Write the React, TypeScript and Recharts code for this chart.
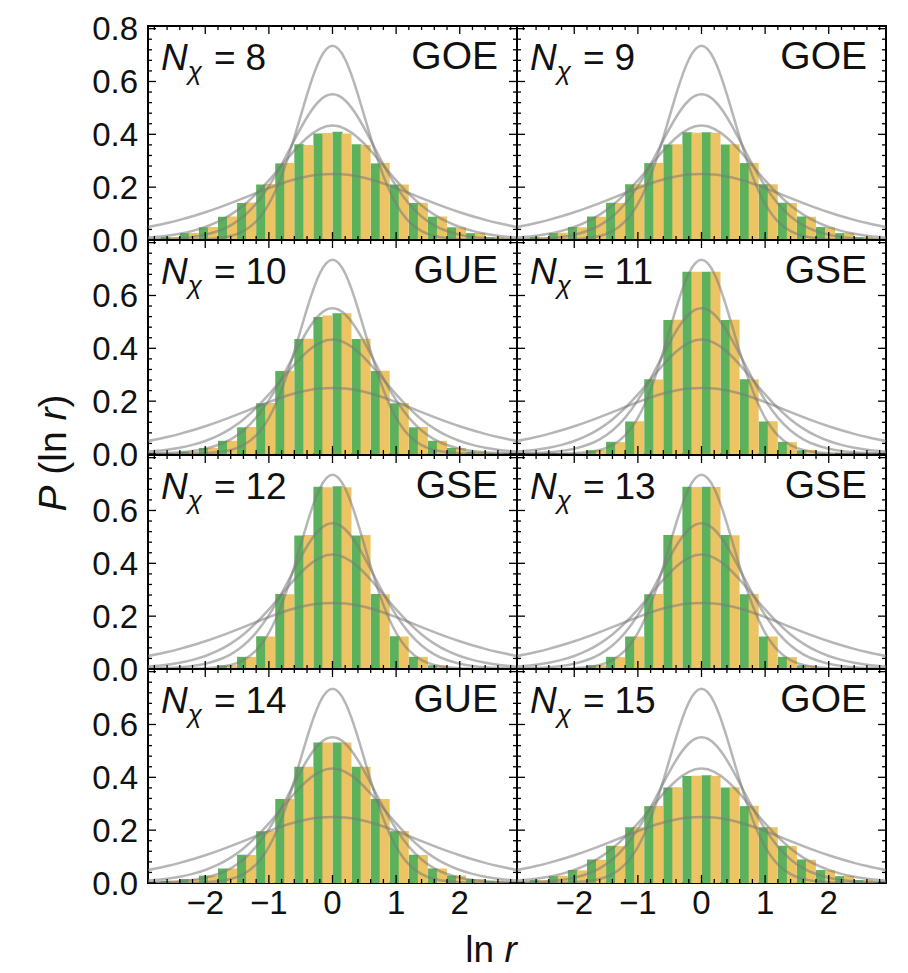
import React from "react";
import { ComposedChart, Bar, Line, XAxis, YAxis, ReferenceArea, ReferenceLine } from "recharts";

// histogram bin centres (bin width 0.3)
const binX = [-2.85, -2.55, -2.25, -1.95, -1.65, -1.35, -1.05, -0.75, -0.45, -0.15, 0.15, 0.45, 0.75, 1.05, 1.35, 1.65, 1.95, 2.25, 2.55, 2.85];

// sample points of the reference curves
const curveX = [-2.9, -2.8, -2.6, -2.4, -2.2, -2.0, -1.8, -1.6, -1.4, -1.2, -1.0, -0.8, -0.6, -0.4, -0.2, 0, 0.2, 0.4, 0.6, 0.8, 1.0, 1.2, 1.4, 1.6, 1.8, 2.0, 2.2, 2.4, 2.6, 2.8, 2.9];
const poissonY = [0.0494, 0.054, 0.0644, 0.0763, 0.0898, 0.105, 0.1217, 0.1398, 0.1587, 0.1779, 0.1966, 0.2139, 0.2288, 0.2403, 0.2475, 0.25, 0.2475, 0.2403, 0.2288, 0.2139, 0.1966, 0.1779, 0.1587, 0.1398, 0.1217, 0.105, 0.0898, 0.0763, 0.0644, 0.054, 0.0494];
const goeY = [0.0093, 0.0113, 0.0165, 0.0239, 0.0344, 0.0491, 0.0692, 0.0961, 0.1309, 0.1743, 0.2255, 0.2819, 0.3382, 0.3872, 0.421, 0.433, 0.421, 0.3872, 0.3382, 0.2819, 0.2255, 0.1743, 0.1309, 0.0961, 0.0692, 0.0491, 0.0344, 0.0239, 0.0165, 0.0113, 0.0093];
const gueY = [0.0017, 0.0022, 0.0039, 0.0068, 0.0118, 0.0201, 0.0339, 0.0557, 0.089, 0.1376, 0.2037, 0.2862, 0.3779, 0.4647, 0.528, 0.5513, 0.528, 0.4647, 0.3779, 0.2862, 0.2037, 0.1376, 0.089, 0.0557, 0.0339, 0.0201, 0.0118, 0.0068, 0.0039, 0.0022, 0.0017];
const gseY = [0, 0.0001, 0.0002, 0.0005, 0.0011, 0.0028, 0.0067, 0.0154, 0.0339, 0.0705, 0.1367, 0.2426, 0.3881, 0.5506, 0.6833, 0.7351, 0.6833, 0.5506, 0.3881, 0.2426, 0.1367, 0.0705, 0.0339, 0.0154, 0.0067, 0.0028, 0.0011, 0.0005, 0.0002, 0.0001, 0];

// bar heights per panel, green = first data set, yellow = second
const n8Green = [0.005, 0.011, 0.026, 0.048, 0.088, 0.14, 0.21, 0.29, 0.362, 0.403, 0.41, 0.362, 0.29, 0.21, 0.14, 0.088, 0.048, 0.026, 0.011, 0.005];
const n8Yellow = [0.005, 0.011, 0.027, 0.049, 0.089, 0.142, 0.212, 0.292, 0.36, 0.405, 0.403, 0.36, 0.292, 0.21, 0.141, 0.089, 0.048, 0.027, 0.011, 0.005];
const n9Green = [0.005, 0.011, 0.026, 0.049, 0.089, 0.141, 0.211, 0.291, 0.361, 0.408, 0.408, 0.361, 0.291, 0.211, 0.141, 0.089, 0.049, 0.026, 0.011, 0.005];
const n9Yellow = [0.005, 0.011, 0.027, 0.048, 0.088, 0.14, 0.211, 0.292, 0.362, 0.406, 0.406, 0.362, 0.292, 0.211, 0.14, 0.088, 0.048, 0.027, 0.011, 0.005];
const n10Green = [0.002, 0.004, 0.009, 0.023, 0.05, 0.101, 0.192, 0.314, 0.435, 0.519, 0.533, 0.435, 0.314, 0.192, 0.101, 0.05, 0.023, 0.009, 0.004, 0.002];
const n10Yellow = [0.002, 0.004, 0.009, 0.023, 0.05, 0.102, 0.193, 0.315, 0.436, 0.524, 0.533, 0.436, 0.315, 0.193, 0.102, 0.05, 0.023, 0.009, 0.004, 0.002];
const n11Green = [0.0003, 0.001, 0.002, 0.004, 0.014, 0.046, 0.123, 0.283, 0.507, 0.69, 0.69, 0.507, 0.283, 0.123, 0.046, 0.014, 0.004, 0.002, 0.001, 0.0003];
const n11Yellow = [0.0003, 0.001, 0.002, 0.004, 0.015, 0.045, 0.124, 0.282, 0.508, 0.69, 0.69, 0.508, 0.282, 0.124, 0.045, 0.015, 0.004, 0.002, 0.001, 0.0003];
const n12Green = [0.0003, 0.001, 0.002, 0.004, 0.014, 0.046, 0.124, 0.284, 0.505, 0.69, 0.692, 0.505, 0.284, 0.124, 0.046, 0.014, 0.004, 0.002, 0.001, 0.0003];
const n12Yellow = [0.0003, 0.001, 0.002, 0.004, 0.014, 0.046, 0.123, 0.283, 0.507, 0.688, 0.688, 0.507, 0.283, 0.123, 0.046, 0.014, 0.004, 0.002, 0.001, 0.0003];
const n13Green = [0.0003, 0.001, 0.002, 0.004, 0.014, 0.046, 0.123, 0.283, 0.507, 0.69, 0.69, 0.507, 0.283, 0.123, 0.046, 0.014, 0.004, 0.002, 0.001, 0.0003];
const n13Yellow = [0.0003, 0.001, 0.002, 0.004, 0.014, 0.045, 0.123, 0.284, 0.506, 0.689, 0.689, 0.506, 0.284, 0.123, 0.045, 0.014, 0.004, 0.002, 0.001, 0.0003];
const n14Green = [0.003, 0.008, 0.015, 0.028, 0.055, 0.107, 0.196, 0.318, 0.44, 0.532, 0.532, 0.44, 0.318, 0.196, 0.107, 0.055, 0.028, 0.015, 0.008, 0.003];
const n14Yellow = [0.003, 0.008, 0.015, 0.028, 0.055, 0.106, 0.197, 0.318, 0.44, 0.532, 0.532, 0.44, 0.318, 0.197, 0.106, 0.055, 0.028, 0.015, 0.008, 0.003];
const n15Green = [0.005, 0.011, 0.026, 0.049, 0.089, 0.141, 0.211, 0.291, 0.361, 0.405, 0.408, 0.361, 0.291, 0.211, 0.141, 0.089, 0.049, 0.026, 0.011, 0.005];
const n15Yellow = [0.005, 0.011, 0.027, 0.048, 0.088, 0.14, 0.211, 0.292, 0.362, 0.406, 0.405, 0.362, 0.292, 0.211, 0.14, 0.088, 0.048, 0.027, 0.011, 0.005];

const panelN = [8, 9, 10, 11, 12, 13, 14, 15];
const panelEnsemble = ["GOE", "GOE", "GUE", "GSE", "GSE", "GSE", "GUE", "GOE"];
const panelGreen = [n8Green, n9Green, n10Green, n11Green, n12Green, n13Green, n14Green, n15Green];
const panelYellow = [n8Yellow, n9Yellow, n10Yellow, n11Yellow, n12Yellow, n13Yellow, n14Yellow, n15Yellow];

const majorX = [-2, -1, 0, 1, 2];
const minorX = [-2.8, -2.6, -2.4, -2.2, -1.8, -1.6, -1.4, -1.2, -0.8, -0.6, -0.4, -0.2, 0.2, 0.4, 0.6, 0.8, 1.2, 1.4, 1.6, 1.8, 2.2, 2.4, 2.6, 2.8];
const majorY = [0, 0.2, 0.4, 0.6, 0.8];
const minorY = [0.04, 0.08, 0.12, 0.16, 0.24, 0.28, 0.32, 0.36, 0.44, 0.48, 0.52, 0.56, 0.64, 0.68, 0.72, 0.76];

const FONT = "'Liberation Sans', Arial, Helvetica, sans-serif";
const X_DOMAIN: [number, number] = [-2.9, 2.9];
const Y_DOMAIN: [number, number] = [0, 0.81];
const PLOT_W = 369;
const PLOT_H = 214;
const COL_LEFT = [148, 517];
const ROW_TOP = [26, 240, 455, 669];
const M = 20;

// tick lengths converted to data units
const PX_X = (X_DOMAIN[1] - X_DOMAIN[0]) / PLOT_W;
const PX_Y = (Y_DOMAIN[1] - Y_DOMAIN[0]) / PLOT_H;
const MAJOR_LEN = 8;
const MINOR_LEN = 4;

const curves = [poissonY, goeY, gueY, gseY].map((ys) => curveX.map((x, i) => ({ x, p: ys[i] })));

const fmtX = (v: number) => (v < 0 ? "\u2212" + Math.abs(v) : String(v));

function frameTicks() {
  const out: React.ReactNode[] = [];
  const add = (key: string, seg: { x: number; y: number }[]) =>
    out.push(
      <ReferenceLine key={key} xAxisId="b" yAxisId="y" segment={seg} stroke="#000" strokeWidth={1.3} ifOverflow="visible" />
    );
  const [x0, x1] = X_DOMAIN;
  const [y0, y1] = Y_DOMAIN;
  [...majorX.map((v) => [v, MAJOR_LEN]), ...minorX.map((v) => [v, MINOR_LEN])].forEach(([v, len], i) => {
    add("xb" + i, [{ x: v, y: y0 }, { x: v, y: y0 + len * PX_Y }]);
    add("xt" + i, [{ x: v, y: y1 }, { x: v, y: y1 - len * PX_Y }]);
  });
  [...majorY.map((v) => [v, MAJOR_LEN]), ...minorY.map((v) => [v, MINOR_LEN])].forEach(([v, len], i) => {
    add("yl" + i, [{ x: x0, y: v }, { x: x0 + len * PX_X, y: v }]);
    add("yr" + i, [{ x: x1, y: v }, { x: x1 - len * PX_X, y: v }]);
  });
  return out;
}

function Panel({ idx }: { idx: number }) {
  const col = idx % 2;
  const row = Math.floor(idx / 2);
  const yW = col === 0 ? 62 : 0;
  const xH = row === 3 ? 44 : 0;
  const left = COL_LEFT[col] - yW - M;
  const top = ROW_TOP[row] - M;
  const data = binX.map((x, i) => ({ x, g: panelGreen[idx][i], yl: panelYellow[idx][i] }));
  const tickStyle = { fill: "#111", fontSize: 33, fontFamily: FONT };

  return (
    <div style={{ position: "absolute", left, top }}>
      <ComposedChart
        width={yW + PLOT_W + 2 * M}
        height={PLOT_H + xH + 2 * M}
        data={data}
        margin={{ top: M, right: M, bottom: M, left: M }}
        barGap={-1}
        barCategoryGap={0}
      >
        <XAxis
          xAxisId="b"
          dataKey="x"
          type="number"
          domain={X_DOMAIN}
          allowDataOverflow
          ticks={majorX}
          interval={0}
          hide={row !== 3}
          height={xH}
          tickLine={false}
          axisLine={false}
          tick={tickStyle}
          tickFormatter={fmtX}
        />
        <XAxis xAxisId="c" dataKey="x" type="number" domain={X_DOMAIN} allowDataOverflow hide />
        <YAxis
          yAxisId="y"
          type="number"
          domain={Y_DOMAIN}
          allowDataOverflow
          ticks={row === 0 ? majorY : majorY.slice(0, 4)}
          interval={0}
          hide={col !== 0}
          width={yW}
          tickLine={false}
          axisLine={false}
          tickMargin={4}
          tick={tickStyle}
          tickFormatter={(v: number) => v.toFixed(1)}
        />

        <Bar xAxisId="b" yAxisId="y" dataKey="g" fill="#5cb25c" isAnimationActive={false} />
        <Bar xAxisId="b" yAxisId="y" dataKey="yl" fill="#ecc464" isAnimationActive={false} />

        {curves.map((c, i) => (
          <Line
            key={i}
            xAxisId="c"
            yAxisId="y"
            data={c}
            dataKey="p"
            type="natural"
            stroke="#7a7a7a"
            strokeOpacity={0.55}
            strokeWidth={2.5}
            dot={false}
            activeDot={false}
            isAnimationActive={false}
          />
        ))}

        {frameTicks()}

        <ReferenceArea
          xAxisId="b"
          yAxisId="y"
          x1={X_DOMAIN[0]}
          x2={X_DOMAIN[1]}
          y1={Y_DOMAIN[0]}
          y2={Y_DOMAIN[1]}
          fill="none"
          stroke="#000"
          strokeWidth={2}
          ifOverflow="visible"
        />
      </ComposedChart>
    </div>
  );
}

export default function App() {
  return (
    <div style={{ position: "absolute", left: 0, top: 0, width: 908, height: 973, background: "#fff" }}>
      {panelN.map((_, i) => (
        <Panel key={i} idx={i} />
      ))}
      <svg width={908} height={973} style={{ position: "absolute", left: 0, top: 0, pointerEvents: "none" }}>
        {panelN.map((n, i) => {
          const L = COL_LEFT[i % 2];
          const T = ROW_TOP[Math.floor(i / 2)];
          return (
            <g key={i} fontFamily={FONT} fill="#111">
              <text x={L + 13} y={T + 44} fontSize={37}>
                <tspan fontStyle="italic">N</tspan>
                <tspan fontStyle="italic" fontSize={26} dy={10}>χ</tspan>
                <tspan dy={-10} dx={12}>=</tspan>
                <tspan dx={10}>{n}</tspan>
              </text>
              <text x={L + PLOT_W - 19} y={T + 43} fontSize={39} textAnchor="end">
                {panelEnsemble[i]}
              </text>
            </g>
          );
        })}
        <text x={491} y={962} fontSize={37} fontFamily={FONT} fill="#111" textAnchor="middle">
          ln <tspan fontStyle="italic">r</tspan>
        </text>
        <text transform="translate(66 453) rotate(-90)" fontSize={39} fontFamily={FONT} fill="#111" textAnchor="middle">
          <tspan fontStyle="italic">P</tspan> (ln <tspan fontStyle="italic">r</tspan>)
        </text>
      </svg>
    </div>
  );
}
